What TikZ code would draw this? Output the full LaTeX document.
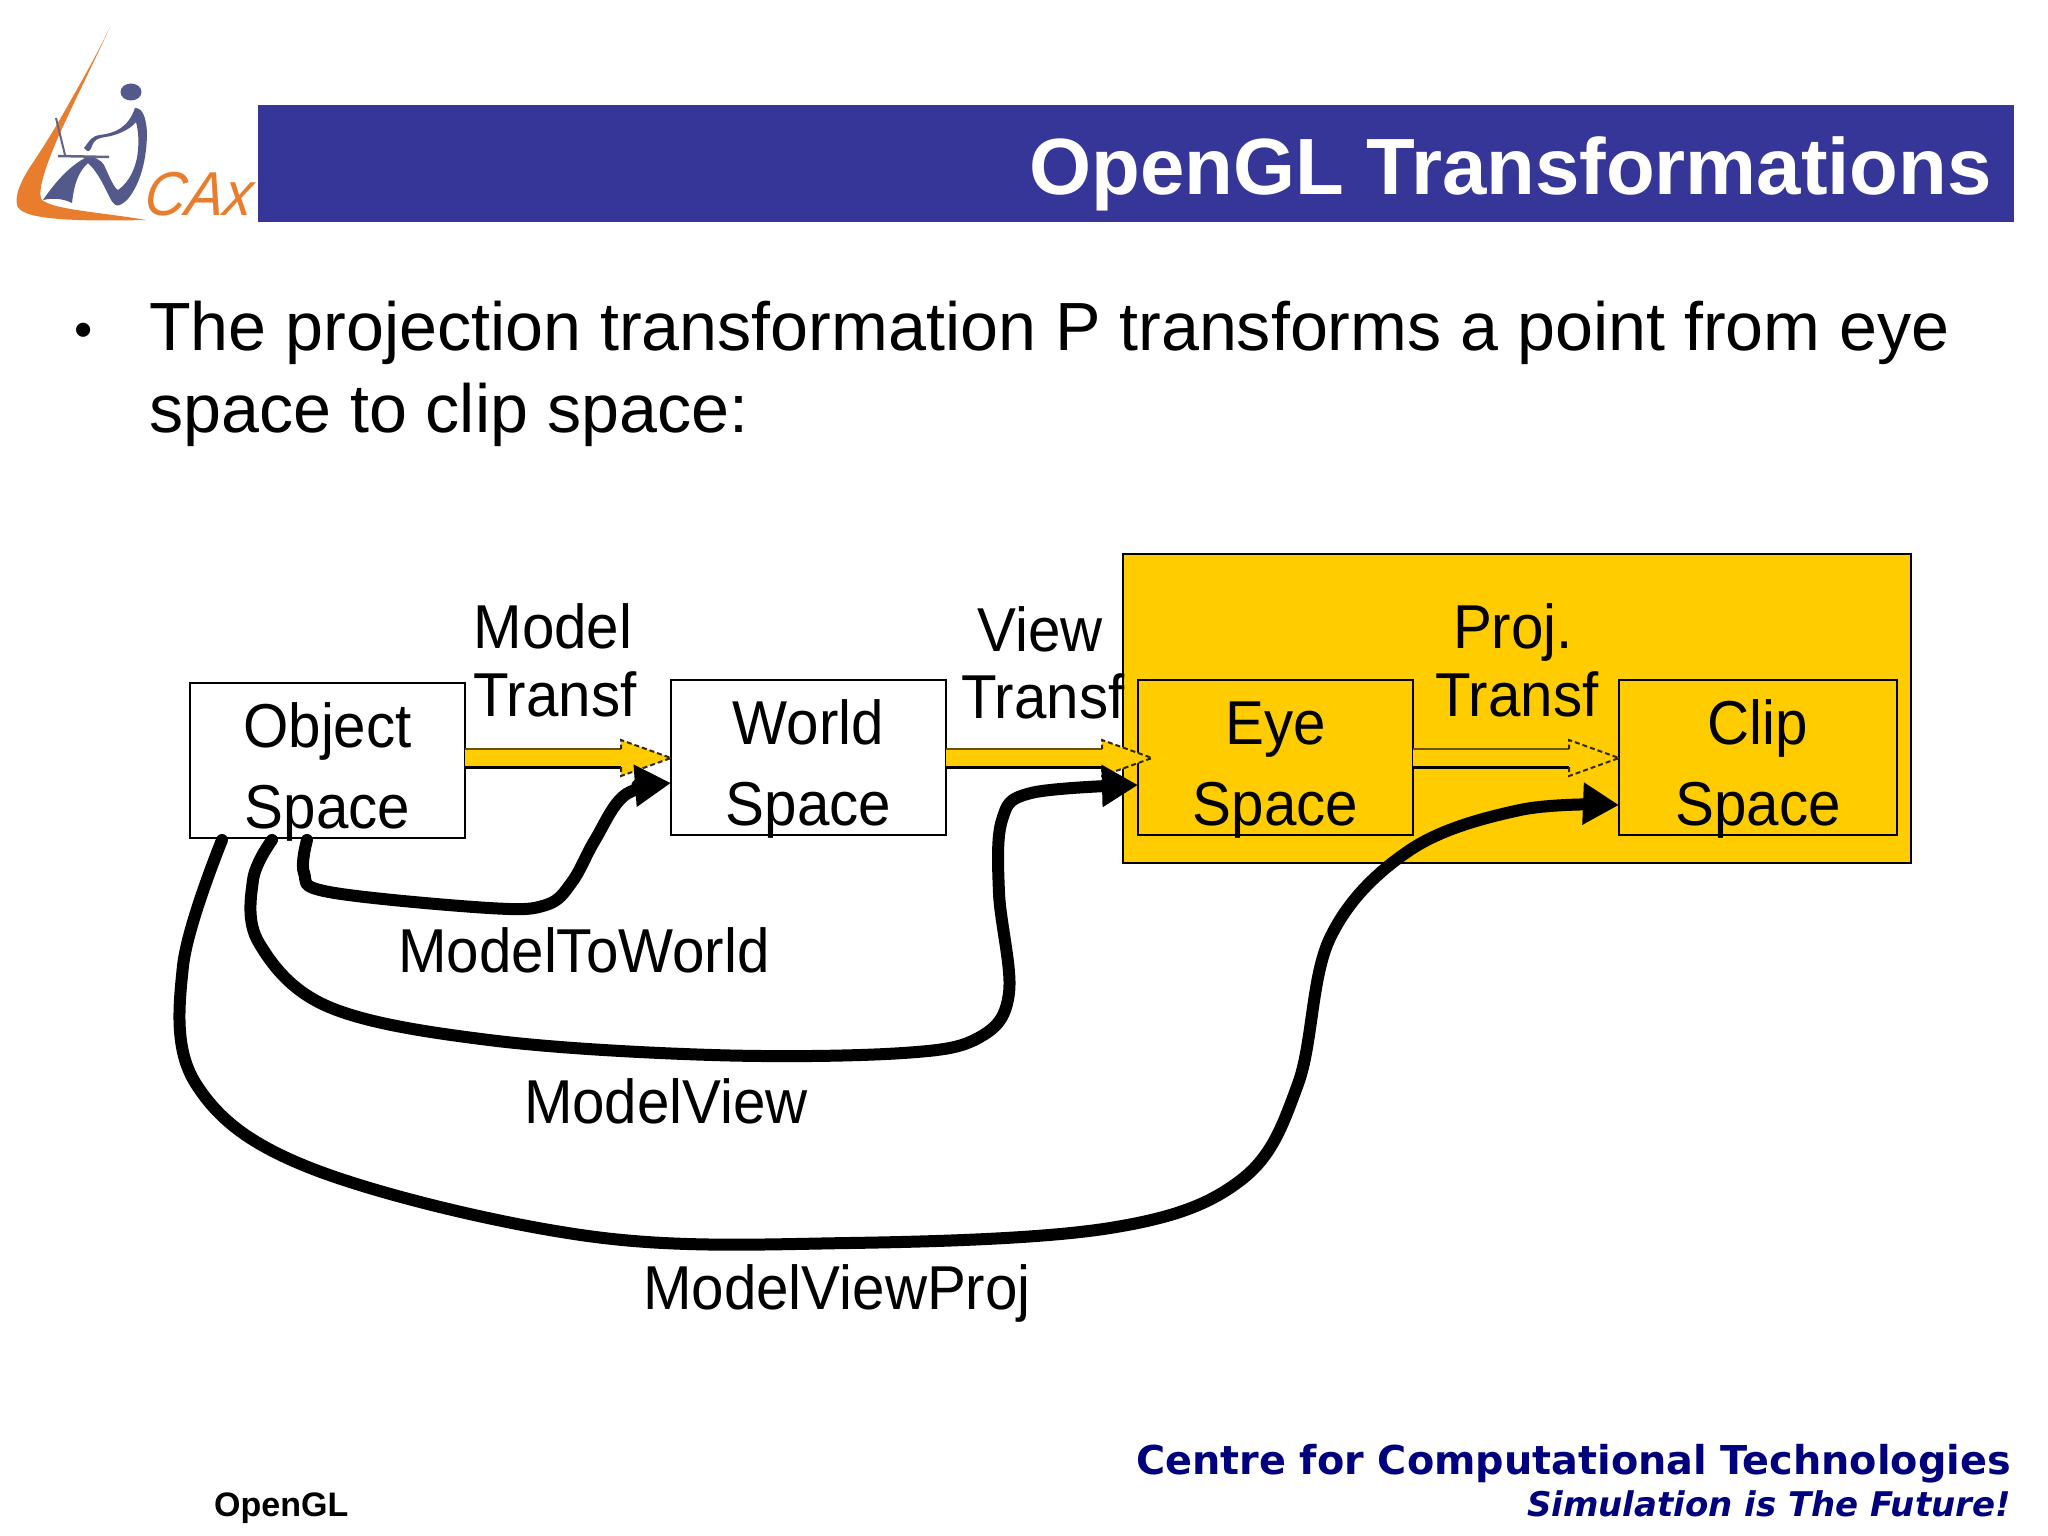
\documentclass[tikz,border=0pt]{standalone}
\usepackage{fontspec}
\usetikzlibrary{arrows.meta,calc}
\setmainfont{Liberation Sans}
\newfontfamily\diagfont[FakeStretch=0.94]{Liberation Sans}
\newfontfamily\caxfont[FakeStretch=0.92,FakeSlant=0.12]{Liberation Sans}
\newfontfamily\footfont{DejaVu Sans}
\definecolor{yel}{HTML}{FFCC00}
\definecolor{banner}{HTML}{363699}
\definecolor{navy}{HTML}{00007F}
\definecolor{logoor}{HTML}{E87D2E}
\definecolor{logobl}{HTML}{54598C}
\newcommand{\yarrow}[2]{%
  \coordinate (ys) at (#1.east |- 0,758);
  \fill[yel] (ys |- 0,749) -- ($(#2)+(-50,-9)$) -- ($(#2)+(-50,-18)$) -- (#2) -- ($(#2)+(-50,18)$) -- ($(#2)+(-50,9)$) -- (ys |- 0,767) -- cycle;
  \draw[line width=2.5pt,black!60!yel] (ys |- 0,749) -- ($(#2)+(-50,-9)$);
  \draw[line width=3pt] (ys |- 0,767) -- ($(#2)+(-50,9)$);
  \draw[line width=2pt,dash pattern=on 5pt off 3pt,black!80!yel] ($(#2)+(-50,9)$) -- ($(#2)+(-50,18)$) -- (#2) -- ($(#2)+(-50,-18)$) -- ($(#2)+(-50,-9)$);
}
\newcommand{\boxtext}[2]{\rule{0pt}{54pt}\smash{#1}\\\smash{#2}}
\tikzset{
  x=1pt,y=-1pt,
  boxnode/.style={draw,line width=2.5pt,outer sep=0pt,minimum width=275pt,minimum height=155pt,inner sep=0pt,
    align=center,font=\fontsize{62}{81}\diagfont},
  lab/.style={inner sep=0pt,anchor=base,align=center,font=\fontsize{62}{67}\diagfont},
  thick curve/.style={line width=12pt,line cap=round,line join=round,
    -{Triangle[length=36pt,width=40pt]}},
}
\begin{document}
\begin{tikzpicture}
\useasboundingbox (0,0) rectangle (2048,1536);
\fill[white] (0,0) rectangle (2048,1536);
% logo
\fill[logoor] (110,27) .. controls (100,48) and (87,72) .. (72,98)
  .. controls (60,120) and (45,145) .. (30,167)
  .. controls (20,183) and (15,195) .. (17,205)
  .. controls (20,218) and (60,222) .. (146,220)
  .. controls (100,212) and (55,210) .. (42,200)
  .. controls (36,192) and (48,160) .. (60,133)
  .. controls (75,100) and (95,60) .. cycle;
\fill[logobl] (131,92) ellipse [x radius=10.5,y radius=8.5];
\fill[logobl] (43,200) .. controls (58,178) and (72,165) .. (85,158)
  .. controls (95,156) and (101,160) .. (104,165)
  .. controls (110,178) and (114,188) .. (118,190)
  .. controls (130,182) and (137,165) .. (138,150)
  .. controls (139,138) and (138,130) .. (136,122)
  .. controls (130,130) and (115,136) .. (105,137)
  .. controls (98,138) and (94,140) .. (92,146)
  .. controls (90,152) and (88,153) .. (84,148)
  .. controls (90,140) and (92,136) .. (100,135)
  .. controls (115,133) and (128,128) .. (135,108)
  .. controls (143,108) and (146,118) .. (147,132)
  .. controls (147,160) and (140,185) .. (127,200)
  .. controls (118,208) and (115,207) .. (110,198)
  .. controls (105,188) and (98,172) .. (88,163)
  .. controls (78,172) and (74,185) .. (72,203)
  .. controls (62,198) and (52,198) .. cycle;
\draw[logobl!70!gray,line width=2pt] (56,118) -- (65,155);
\draw[logobl!70!gray,line width=2.5pt] (58,156) -- (109,157);
\node[inner sep=0pt,anchor=base west,text=logoor,font=\fontsize{62}{62}\caxfont\itshape] (cax) at (143,215) {CAx};
% banner
\node[fill=banner,minimum width=1756pt,minimum height=117pt,inner sep=0pt,outer sep=0pt,anchor=north west] (ban) at (258,105) {};
\node[inner sep=0pt,anchor=base east,text=white,font=\fontsize{79.8}{80}\selectfont\bfseries] (title) at (1992,194) {OpenGL Transformations};
% bullet
\node[inner sep=0pt,anchor=base west,font=\fontsize{52}{52}\selectfont] (bul) at (74,347) {•};
\node[inner sep=0pt,anchor=base west,font=\fontsize{68.2}{68.2}\selectfont] (l1) at (149,350) {The projection transformation P transforms a point from eye};
\node[inner sep=0pt,anchor=base west,font=\fontsize{68.2}{68.2}\selectfont] (l2) at (149,432) {space to clip space:};
% orange box
\node[draw,fill=yel,line width=2.5pt,outer sep=0pt,minimum width=788pt,minimum height=309pt,inner sep=0pt,anchor=north west] (proj) at (1123,554) {};
% boxes
\node[boxnode,fill=white,anchor=north west] (obj) at (190,683) {\boxtext{Object}{Space}};
\node[boxnode,fill=white,anchor=north west] (wor) at (671,680) {\boxtext{World}{Space}};
\node[boxnode,anchor=north west] (eye) at (1138,680) {\boxtext{Eye}{Space}};
\node[boxnode,anchor=north west,minimum width=278pt] (cli) at (1619,680) {\boxtext{Clip}{Space}};
% labels
\node[lab] (lm) at (553,648) {Model};
\node[lab] (lt1) at (555,716) {Transf};
\node[lab] (lv) at (1040,651) {View};
\node[lab] (lt2) at (1043,718) {Transf};
\node[lab] (lp) at (1513,648) {Proj.};
\node[lab] (lt3) at (1517,716) {Transf};
\node[lab] (l3) at (584,972) {ModelToWorld};
\node[lab] (l4) at (666,1123) {ModelView};
\node[lab] (l5) at (837,1309) {ModelViewProj};
% yellow arrows
\coordinate (t1) at (wor.west |- 0,758);
\coordinate (t2) at (1152,758);
\coordinate (t3) at (cli.west |- 0,758);
\yarrow{obj}{t1}
\yarrow{wor}{t2}
\yarrow{eye}{t3}
% black curves
\coordinate (a1) at (307,840);
\coordinate (a2) at (272,840);
\coordinate (a3) at (222,840);
\coordinate (b1) at (wor.west |- 0,783);
\coordinate (b2) at (eye.west |- 0,785);
\coordinate (b3) at (cli.west |- 0,805);
\draw[thick curve] plot[smooth,tension=0.6] coordinates {(a1) (304,873) (329,892) (489,908) (546,905) (572,882) (595,840) (625,795) (b1)};
\draw[thick curve] plot[smooth,tension=0.6] coordinates {(a2) (253,880) (259,943) (329,1007) (489,1040) (712,1055) (903,1053) (980,1037) (1009,993) (999,893) (1002,820) (1031,793) (b2)};
\draw[thick curve] plot[smooth,tension=0.6] coordinates {(a3) (183,966) (196,1084) (313,1169) (588,1236) (849,1243) (1110,1228) (1241,1180) (1298,1084) (1330,938) (1410,850) (1520,810) (b3)};
% footer
\node[inner sep=0pt,anchor=base west,font=\fontsize{34}{34}\selectfont\bfseries] (fo) at (214,1516) {OpenGL};
\node[inner sep=0pt,anchor=base east,text=navy,font=\fontsize{39.75}{40}\footfont\bfseries] (f1) at (2011,1474) {Centre for Computational Technologies};
\node[inner sep=0pt,anchor=base east,text=navy,font=\fontsize{34}{34}\footfont\bfseries\itshape] (f2) at (2011,1516) {Simulation is The Future!};
\end{tikzpicture}
\end{document}
